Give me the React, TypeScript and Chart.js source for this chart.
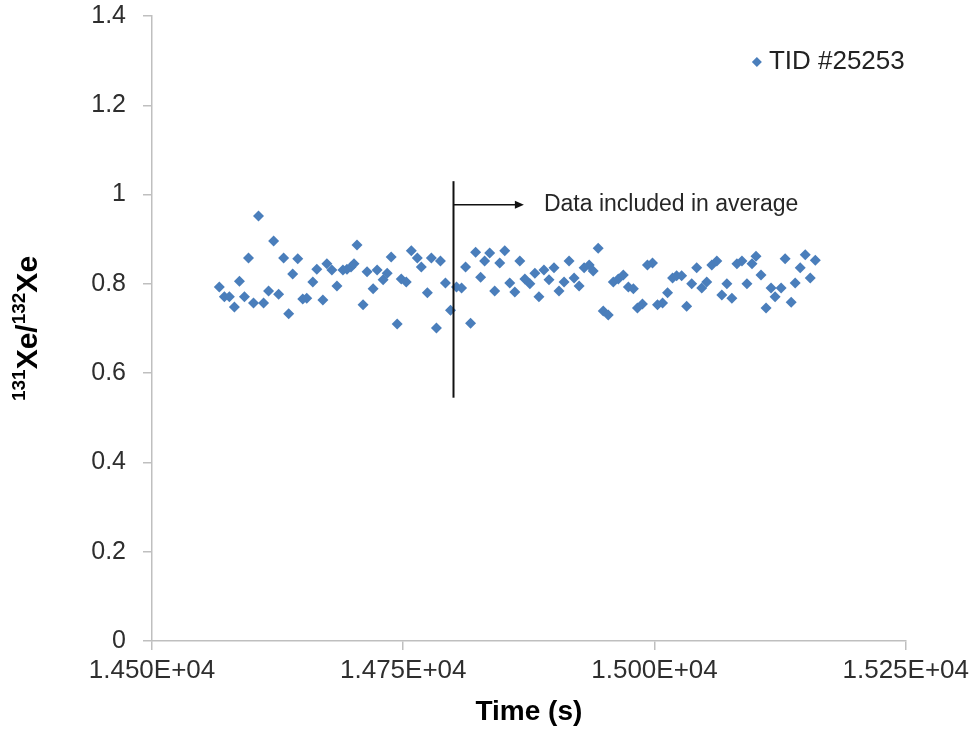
import React, { useEffect, useRef } from 'react';
import { Chart, registerables } from 'chart.js';

Chart.register(...registerables);

const SERIES_NAME = 'TID #25253';

const timeSeconds = [
  14567, 14572, 14577, 14582, 14587, 14592, 14596, 14601, 14606, 14611,
  14616, 14621, 14626, 14631, 14636, 14640, 14645, 14650, 14654, 14660,
  14664, 14670, 14674, 14679, 14684, 14690, 14694, 14698, 14701, 14704,
  14710, 14714, 14720, 14724, 14730, 14734, 14738, 14744, 14748, 14753,
  14758, 14764, 14768, 14774, 14778, 14783, 14787, 14792, 14797, 14803,
  14808, 14812, 14817, 14822, 14827, 14831, 14836, 14841, 14846, 14851,
  14856, 14861, 14866, 14871, 14876, 14881, 14885, 14890, 14895, 14900,
  14905, 14910, 14915, 14920, 14925, 14930, 14935, 14939, 14944, 14949,
  14954, 14959, 14964, 14969, 14974, 14979, 14983, 14988, 14993, 14998,
  15003, 15008, 15013, 15018, 15022, 15027, 15032, 15037, 15042, 15047,
  15052, 15057, 15062, 15067, 15072, 15077, 15082, 15087, 15092, 15097,
  15101, 15106, 15111, 15116, 15120, 15126, 15130, 15136, 15140, 15145,
  15150, 15155, 15160,
];

const ratioValues = [
  0.793, 0.771, 0.771, 0.748, 0.806, 0.771, 0.858, 0.757, 0.952, 0.757,
  0.784, 0.896, 0.777, 0.858, 0.733, 0.822, 0.856, 0.766, 0.768, 0.804,
  0.833, 0.764, 0.845, 0.831, 0.795, 0.831, 0.833, 0.838, 0.845, 0.887,
  0.753, 0.827, 0.789, 0.831, 0.809, 0.824, 0.86, 0.71, 0.811, 0.804,
  0.874, 0.858, 0.838, 0.78, 0.858, 0.701, 0.851, 0.802, 0.741, 0.793,
  0.791, 0.838, 0.712, 0.871, 0.815, 0.851, 0.869, 0.784, 0.847, 0.874,
  0.802, 0.782, 0.851, 0.811, 0.8, 0.824, 0.771, 0.831, 0.809, 0.836,
  0.784, 0.804, 0.851, 0.813, 0.795, 0.836, 0.842, 0.829, 0.88, 0.739,
  0.73, 0.804, 0.811, 0.82, 0.793, 0.789, 0.746, 0.755, 0.842, 0.847,
  0.753, 0.757, 0.78, 0.813, 0.818, 0.818, 0.75, 0.8, 0.836, 0.791,
  0.804, 0.842, 0.851, 0.775, 0.8, 0.768, 0.845, 0.851, 0.8, 0.845,
  0.862, 0.82, 0.746, 0.791, 0.771, 0.791, 0.856, 0.759, 0.802, 0.836,
  0.865, 0.813, 0.853,
];

const X_MIN = 14500;
const X_MAX = 15250;
const X_STEP = 250;
const Y_MIN = 0;
const Y_MAX = 1.4;
const Y_STEP = 0.2;

const X_TITLE = 'Time (s)';
const Y_TITLE_PARTS = [
  { text: '131', sup: true },
  { text: 'Xe/', sup: false },
  { text: '132', sup: true },
  { text: 'Xe', sup: false },
];

// annotation (data units)
const CUT_TIME = 14800;
const CUT_LOW = 0.545;
const CUT_HIGH = 1.03;
const ARROW_VALUE = 0.977;
const ARROW_END_TIME = 14870;
const NOTE_TIME = 14890;
const NOTE_TEXT = 'Data included in average';

const FONT = '"Liberation Sans", Arial, Helvetica, sans-serif';
const POINT_COLOR = '#4A7EBB';
const AXIS_COLOR = '#BFBFBF';
const TEXT_COLOR = '#2E2E2E';

function formatExp(v: number): string {
  if (v === 0) return '0.000E+00';
  const exp = Math.floor(Math.log10(Math.abs(v)));
  const mant = v / Math.pow(10, exp);
  const sign = exp < 0 ? '-' : '+';
  const e = String(Math.abs(exp)).padStart(2, '0');
  return mant.toFixed(3) + 'E' + sign + e;
}

const overlayPlugin = {
  id: 'overlayPlugin',
  afterDatasetsDraw(chart: any) {
    const { ctx, chartArea, scales } = chart;
    const x = scales.x;
    const y = scales.y;
    ctx.save();

    // vertical cut line
    const lx = x.getPixelForValue(CUT_TIME);
    ctx.strokeStyle = '#111111';
    ctx.lineWidth = 2;
    ctx.beginPath();
    ctx.moveTo(lx, y.getPixelForValue(CUT_HIGH));
    ctx.lineTo(lx, y.getPixelForValue(CUT_LOW));
    ctx.stroke();

    // arrow
    const ay = y.getPixelForValue(ARROW_VALUE);
    const ax = x.getPixelForValue(ARROW_END_TIME);
    ctx.lineWidth = 1.5;
    ctx.beginPath();
    ctx.moveTo(lx, ay);
    ctx.lineTo(ax - 5, ay);
    ctx.stroke();
    ctx.fillStyle = '#111111';
    ctx.beginPath();
    ctx.moveTo(ax, ay);
    ctx.lineTo(ax - 9, ay - 4);
    ctx.lineTo(ax - 9, ay + 4);
    ctx.closePath();
    ctx.fill();

    // note
    ctx.font = '23px ' + FONT;
    ctx.fillStyle = '#262626';
    ctx.textBaseline = 'middle';
    ctx.textAlign = 'left';
    ctx.fillText(NOTE_TEXT, x.getPixelForValue(NOTE_TIME), ay);

    // legend
    ctx.font = '26px ' + FONT;
    ctx.textAlign = 'right';
    const legY = chartArea.top + 46;
    const textRight = chartArea.right - 1;
    const w = ctx.measureText(SERIES_NAME).width;
    ctx.fillStyle = '#222222';
    ctx.fillText(SERIES_NAME, textRight, legY);
    const dx = textRight - w - 12;
    ctx.fillStyle = POINT_COLOR;
    ctx.beginPath();
    ctx.moveTo(dx - 5, legY);
    ctx.lineTo(dx, legY - 5);
    ctx.lineTo(dx + 5, legY);
    ctx.lineTo(dx, legY + 5);
    ctx.closePath();
    ctx.fill();

    // y axis title with superscripts
    const mainFont = 'bold 30px ' + FONT;
    const supFont = 'bold 19px ' + FONT;
    let total = 0;
    for (const p of Y_TITLE_PARTS) {
      ctx.font = p.sup ? supFont : mainFont;
      total += ctx.measureText(p.text).width;
    }
    const cy = (chartArea.top + chartArea.bottom) / 2;
    ctx.translate(37, cy);
    ctx.rotate(-Math.PI / 2);
    ctx.textAlign = 'left';
    ctx.textBaseline = 'alphabetic';
    ctx.fillStyle = '#000000';
    let cx = -total / 2;
    for (const p of Y_TITLE_PARTS) {
      ctx.font = p.sup ? supFont : mainFont;
      ctx.fillText(p.text, cx, p.sup ? -12 : 0);
      cx += ctx.measureText(p.text).width;
    }

    ctx.restore();
  },
};

export default function App() {
  const canvasRef = useRef<HTMLCanvasElement | null>(null);

  useEffect(() => {
    const canvas = canvasRef.current;
    if (!canvas) return;
    const points = timeSeconds.map((t, i) => ({ x: t, y: ratioValues[i] }));
    const chart = new Chart(canvas, {
      type: 'scatter',
      data: {
        datasets: [
          {
            label: SERIES_NAME,
            data: points,
            pointStyle: 'rectRot',
            pointRadius: 5.5,
            pointHoverRadius: 5.5,
            backgroundColor: POINT_COLOR,
            borderColor: POINT_COLOR,
            borderWidth: 0,
            showLine: false,
          },
        ],
      },
      options: {
        responsive: false,
        animation: false,
        layout: { padding: { left: 0, right: 68, top: 16, bottom: 0 } },
        plugins: {
          legend: { display: false },
          tooltip: { enabled: false },
          title: { display: false },
        },
        scales: {
          x: {
            type: 'linear',
            min: X_MIN,
            max: X_MAX,
            border: { display: true, color: AXIS_COLOR, width: 1.5 },
            grid: {
              display: true,
              drawOnChartArea: false,
              drawTicks: true,
              tickLength: 9,
              color: AXIS_COLOR,
              lineWidth: 1.5,
            },
            ticks: {
              stepSize: X_STEP,
              padding: 5,
              maxRotation: 0,
              autoSkip: false,
              color: TEXT_COLOR,
              font: { family: FONT, size: 26 },
              callback: (v: any) => formatExp(Number(v)),
            },
            title: {
              display: true,
              text: X_TITLE,
              color: '#000000',
              font: { family: FONT, size: 28, weight: 'bold' },
              padding: { top: 0, bottom: 7 },
            },
            afterFit: (scale: any) => {
              scale.height = 95;
            },
          },
          y: {
            type: 'linear',
            min: Y_MIN,
            max: Y_MAX,
            border: { display: true, color: AXIS_COLOR, width: 1.5 },
            grid: {
              display: true,
              drawOnChartArea: false,
              drawTicks: true,
              tickLength: 9,
              color: AXIS_COLOR,
              lineWidth: 1.5,
            },
            ticks: {
              stepSize: Y_STEP,
              padding: 17,
              color: TEXT_COLOR,
              font: { family: FONT, size: 25 },
              callback: (v: any) => String(Number(Number(v).toFixed(1))),
            },
            title: { display: false },
            afterFit: (scale: any) => {
              scale.width = 152;
              scale.paddingTop = 0;
              scale.paddingBottom = 0;
            },
          },
        },
      },
      plugins: [overlayPlugin],
    });
    return () => {
      chart.destroy();
    };
  }, []);

  return (
    <div style={{ position: 'absolute', left: 0, top: 0, width: 974, height: 736, background: '#ffffff' }}>
      <canvas ref={canvasRef} width={974} height={736} style={{ display: 'block' }} />
    </div>
  );
}
